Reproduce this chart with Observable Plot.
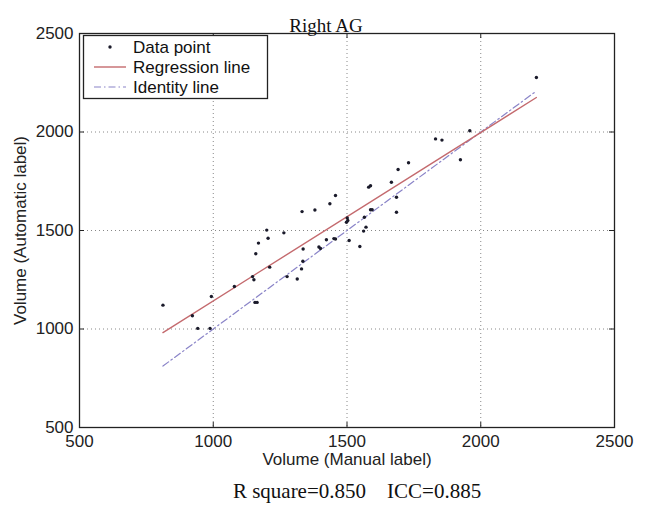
<!DOCTYPE html>
<html>
<head>
<meta charset="utf-8">
<script src="https://cdn.jsdelivr.net/npm/d3@7"></script>
<script src="https://cdn.jsdelivr.net/npm/@observablehq/plot@0.6"></script>
<style>
  html, body { margin: 0; padding: 0; background: #fff; }
  #chart { width: 652px; height: 514px; }
</style>
</head>
<body>
<div id="chart"></div>
<script>
const titleText = "Right AG";
const captionText = "R square=0.850\u00a0\u00a0\u00a0\u00a0ICC=0.885";
const xLabel = "Volume (Manual label)";
const yLabel = "Volume (Automatic label)";
const legendLabels = ["Data point", "Regression line", "Identity line"];

const xTicks = [500, 1000, 1500, 2000, 2500];
const yTicks = [500, 1000, 1500, 2000, 2500];

// Data points
const manualVolume = [812, 922, 942, 988, 993, 1079, 1147, 1152, 1156, 1164, 1159, 1169, 1200, 1205, 1211,
  1264, 1276, 1314, 1330, 1335, 1336, 1332, 1380, 1395, 1401, 1423, 1436, 1451, 1457, 1457,
  1501, 1503, 1498, 1508, 1548, 1562, 1571, 1565, 1581, 1588, 1588, 1594, 1666, 1685, 1685,
  1691, 1730, 1831, 1855, 1924, 1959, 2208];
const automaticVolume = [1121, 1067, 1003, 1003, 1165, 1216, 1266, 1250, 1135, 1135, 1382, 1436, 1502, 1461, 1314,
  1488, 1266, 1254, 1305, 1344, 1406, 1596, 1604, 1416, 1409, 1453, 1636, 1459, 1457, 1678,
  1564, 1551, 1542, 1449, 1419, 1497, 1517, 1567, 1720, 1727, 1605, 1605, 1745, 1669, 1593,
  1810, 1844, 1965, 1959, 1859, 2006, 2277];

// Regression line end points and identity line end points
const regressionX = [812, 2208];
const regressionY = [982, 2175];
const identityX = [812, 2208];
const identityY = [812, 2208];

const points = manualVolume.map((x, i) => ({x, y: automaticVolume[i]}));
const regression = regressionX.map((x, i) => ({x, y: regressionY[i]}));
const identity = identityX.map((x, i) => ({x, y: identityY[i]}));

const sans = "'Liberation Sans', Arial, sans-serif";
const serif = "'Liberation Serif', 'Times New Roman', serif";

const regColor = "#c46a6e";
const idColor = "#8a84c8";
const dotColor = "#1a1a2a";
const idDash = "7,3,1.5,3";
const fmt = d3.format("d");

const plot = Plot.plot({
  width: 652,
  height: 514,
  marginLeft: 79,
  marginRight: 38,
  marginTop: 33,
  marginBottom: 87,
  style: {fontFamily: sans, fontSize: "17px", color: "#222", background: "#fff"},
  x: {domain: [500, 2500], ticks: xTicks, tickFormat: fmt},
  y: {domain: [500, 2500], ticks: yTicks, tickFormat: fmt},
  marks: [
    Plot.gridX(xTicks.slice(1, -1), {stroke: "#888", strokeOpacity: 1, strokeDasharray: "1,3"}),
    Plot.gridY(yTicks.slice(1, -1), {stroke: "#888", strokeOpacity: 1, strokeDasharray: "1,3"}),
    Plot.ruleX(xTicks, {x: d => d, insetTop: 389, stroke: "#222"}),
    Plot.ruleX(xTicks, {x: d => d, insetBottom: 389, stroke: "#222"}),
    Plot.ruleY(yTicks, {y: d => d, insetRight: 530, stroke: "#222"}),
    Plot.ruleY(yTicks, {y: d => d, insetLeft: 530, stroke: "#222"}),
    Plot.axisX(xTicks, {tickSize: 0, tickPadding: 7, fontSize: 17, tickFormat: fmt, label: xLabel, labelAnchor: "center", labelArrow: "none", labelOffset: 37}),
    Plot.axisY(yTicks, {tickSize: 0, tickPadding: 6, fontSize: 17, tickFormat: fmt, label: yLabel, labelAnchor: "center", labelArrow: "none", labelOffset: 66}),
    Plot.line(identity, {x: "x", y: "y", stroke: idColor, strokeWidth: 1.2, strokeDasharray: idDash}),
    Plot.line(regression, {x: "x", y: "y", stroke: regColor, strokeWidth: 1.4}),
    Plot.dot(points, {x: "x", y: "y", r: 1.7, fill: dotColor, stroke: "none"}),
    Plot.frame({stroke: "#222", strokeWidth: 1.3}),
    Plot.text([titleText], {frameAnchor: "top", dy: -15, dx: -21, fontFamily: serif, fontSize: 19, fill: "#111"}),
    Plot.text([captionText], {frameAnchor: "bottom", dy: 70, dx: 10, fontFamily: serif, fontSize: 21, fill: "#111"})
  ]
});

document.getElementById("chart").appendChild(plot);

// Legend box (MATLAB style, upper left inside the axes)
const svg = d3.select(plot);
const lg = svg.append("g").attr("font-family", sans).attr("font-size", 17).attr("fill", "#111")
  .attr("text-anchor", "start");
lg.append("rect").attr("x", 83.5).attr("y", 35.5).attr("width", 184).attr("height", 63)
  .attr("fill", "#fff").attr("stroke", "#222").attr("stroke-width", 1.3);
const rows = [47, 67, 87];
lg.append("circle").attr("cx", 110).attr("cy", rows[0]).attr("r", 1.7).attr("fill", dotColor);
lg.append("line").attr("x1", 94).attr("x2", 126).attr("y1", rows[1]).attr("y2", rows[1])
  .attr("stroke", regColor).attr("stroke-width", 1.4);
lg.append("line").attr("x1", 94).attr("x2", 126).attr("y1", rows[2]).attr("y2", rows[2])
  .attr("stroke", idColor).attr("stroke-width", 1.2).attr("stroke-dasharray", idDash);
legendLabels.forEach((t, i) => {
  lg.append("text").attr("x", 133).attr("y", rows[i]).attr("dy", "0.35em").attr("text-anchor", "start").text(t);
});
</script>
</body>
</html>
